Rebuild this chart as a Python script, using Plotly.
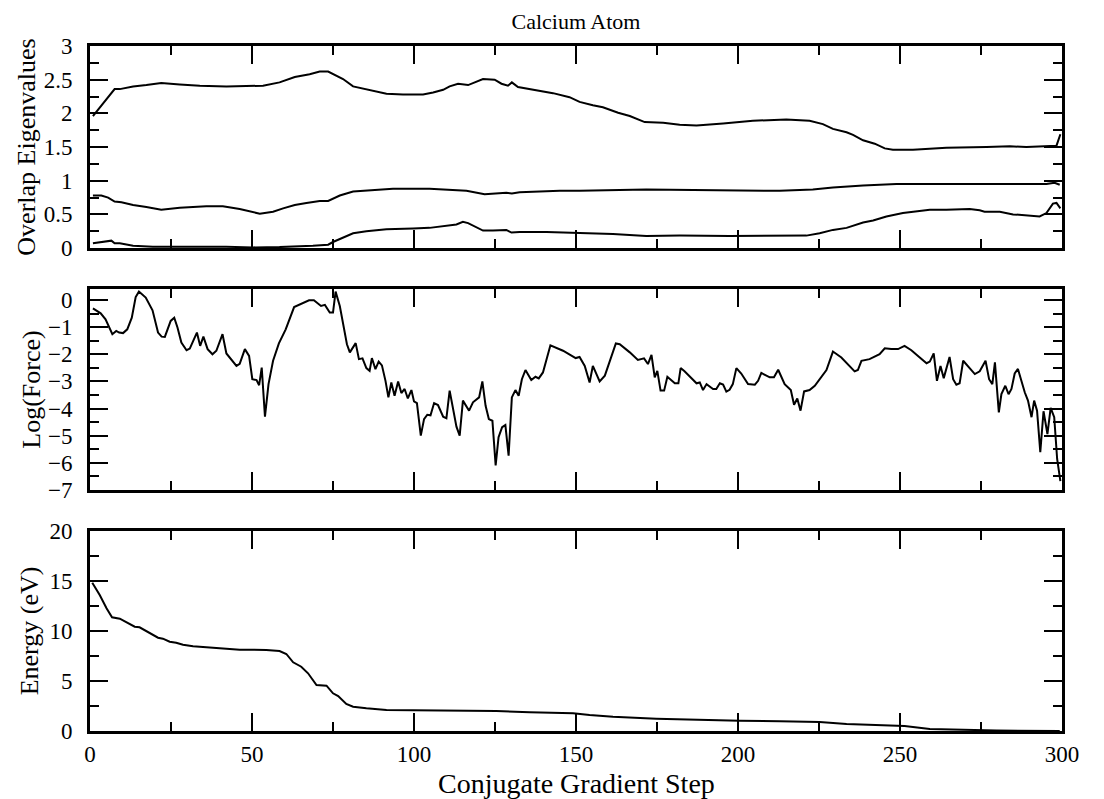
import plotly.graph_objects as go

# ---- Data ----
eig_hi_x = [0.9, 7.6, 9.2, 13.3, 17.4, 22, 27.7, 33.9, 42.1, 53.4, 58.5, 63.2, 67.8, 70.9, 73.5, 78.1, 81.2, 86.3,
            91.5, 96.6, 102.8, 105.9, 109, 111, 113.6, 116.7, 119.3, 121.3, 124.9, 127, 129, 130.2, 132.1, 136.7,
            142.9, 148, 151.1, 155.2, 158.3, 163, 166.6, 171.2, 176.9, 182, 187.2, 195.4, 204.6, 214.9, 222.1,
            226.2, 229.3, 233.5, 235.5, 238.6, 242.2, 245.3, 247.8, 254, 264.3, 276.7, 283.9, 289, 295.2, 298.3, 299.5]
eig_hi_y = [1.96, 2.36, 2.36, 2.40, 2.42, 2.45, 2.43, 2.41, 2.40, 2.41, 2.46, 2.54, 2.58, 2.62, 2.62, 2.51, 2.40, 2.35,
            2.29, 2.28, 2.28, 2.31, 2.35, 2.40, 2.44, 2.42, 2.47, 2.51, 2.50, 2.44, 2.41, 2.46, 2.39, 2.35,
            2.30, 2.24, 2.17, 2.12, 2.09, 2.01, 1.96, 1.87, 1.86, 1.83, 1.82, 1.85, 1.89, 1.91, 1.89,
            1.84, 1.77, 1.72, 1.68, 1.60, 1.55, 1.48, 1.46, 1.46, 1.49, 1.50, 1.51, 1.50, 1.51, 1.52, 1.69]

eig_mid_x = [0.9, 3.5, 5.6, 7.6, 9.7, 13.3, 17.4, 22, 27.7, 35.9, 41, 46.2, 52.4, 56.5, 59.6, 63.2, 66.8, 70.9, 73.5,
             77.1, 81.2, 86.3, 93.5, 104.8, 116.2, 121.8, 128.5, 130.2, 132.6, 145, 151.1, 171.7, 192.3, 212.9,
             223.1, 229.3, 238.6, 248.9, 264.3, 284.9, 295.2, 297.7, 299.3]
eig_mid_y = [0.78, 0.78, 0.75, 0.69, 0.68, 0.64, 0.61, 0.57, 0.60, 0.62, 0.62, 0.58, 0.51, 0.54, 0.59, 0.64, 0.67, 0.70, 0.70,
             0.78, 0.84, 0.86, 0.88, 0.88, 0.85, 0.80, 0.82, 0.81, 0.83, 0.85, 0.85, 0.87, 0.86, 0.85,
             0.87, 0.90, 0.93, 0.95, 0.95, 0.95, 0.95, 0.97, 0.94]

eig_lo_x = [0.9, 4, 6.6, 7.6, 9.2, 13.3, 19.4, 27.7, 35.9, 42, 50.3, 58.5, 68.8, 73.5, 75, 78.1, 81.2, 85.3, 91.5,
            99.7, 104.8, 113.1, 115.1, 116.7, 121.3, 124.4, 128.5, 130.1, 132.6, 140.9, 151.1, 161.4, 171.7, 182,
            197.4, 212.9, 221.1, 225.2, 229.3, 233.5, 238.6, 241.7, 245.8, 250.9, 259.2, 264.3, 271.5, 274.6,
            276.1, 280.8, 284.9, 293.1, 295.2, 297.2, 298.3, 299.5]
eig_lo_y = [0.07, 0.09, 0.11, 0.07, 0.07, 0.035, 0.02, 0.02, 0.025, 0.02, 0.01, 0.015, 0.035, 0.05, 0.09, 0.16, 0.22, 0.25, 0.28,
            0.29, 0.30, 0.35, 0.39, 0.37, 0.26, 0.26, 0.27, 0.23, 0.24, 0.24, 0.23, 0.21, 0.18, 0.185,
            0.18, 0.18, 0.185, 0.22, 0.27, 0.30, 0.38, 0.41, 0.47, 0.52, 0.57, 0.57, 0.58, 0.56,
            0.54, 0.54, 0.50, 0.47, 0.52, 0.66, 0.67, 0.59]

force_x = [0.9, 3.3, 4.8, 6.9, 8.1, 9, 10.2, 11.5, 12.9, 14.1, 15.1, 17.2, 19.3, 21, 22.1, 23.1, 24.9, 26, 27, 28.2,
           29.8, 30.8, 32.1, 33, 34, 35, 36.3, 37.8, 39, 40.9, 42.1, 43.4, 45.2, 46.2, 47.8, 49.1, 50.1, 51.4,
           52.2, 53, 54, 55.1, 56.5, 58.3, 60.4, 63, 64.5, 67.6, 69.1, 71.3, 72.5, 74, 75, 75.8, 77.1, 78.3,
           79.3, 80.2, 82, 83, 84.1, 85.3, 86.3, 87, 88.1, 89.1, 90.1, 91.2, 92.1, 93, 94, 95.1, 96.1, 97.1,
           98.1, 99.2, 100, 100.9, 102.1, 103.1, 104.1, 105.1, 106.2, 107.4, 109, 110, 111, 113.1, 114.1, 115.1,
           117, 118.2, 120.1, 121.1, 122.1, 123.1, 124.2, 125.2, 126.1, 127.2, 128.2, 129.2, 130.2, 131.3,
           132.3, 133.3, 134.4, 136.2, 137.5, 138.5, 139.8, 142.1, 146, 149.9, 151.1, 152.7, 154.2, 155.2,
           157.3, 158.9, 160.4, 162.3, 163.5, 166.6, 169.1, 171, 172.2, 173.3, 174.3, 175.1, 176.1, 177.2,
           178.2, 180.5, 181.6, 182.3, 183.5, 187.2, 188.2, 189.2, 190.3, 192.3, 193.3, 194.4, 195.4, 196.4,
           197.4, 198.4, 199.5, 201, 203.1, 205.2, 206.2, 207.2, 209.8, 211.1, 212.4, 214.4, 216.3, 217.3,
           218.3, 219.3, 220.4, 222.1, 223.7, 225.2, 227.3, 229.3, 231.9, 236, 237, 238.1, 240.6, 243.7,
           245.3, 247.3, 249.4, 251.4, 253.5, 256.1, 258.2, 259.2, 260.4, 261.4, 262.5, 263.5, 265.3, 266.4,
           267.4, 268.4, 269.5, 273.1, 274.6, 276.4, 277.5, 278.5, 279.3, 280.5, 281.3, 282.5, 283.5, 284.4,
           285.4, 286.4, 288.5, 289.5, 290.6, 291.4, 292.3, 293.3, 294.3, 295.5, 296.5, 297.6, 298.5, 299.5]
force_y = [-0.31, -0.49, -0.71, -1.26, -1.14, -1.2, -1.22, -1.08, -0.65, 0.11, 0.31, 0.09, -0.38, -1.2, -1.35, -1.36, -0.77, -0.65, -1.01, -1.57,
           -1.85, -1.79, -1.44, -1.2, -1.69, -1.35, -1.81, -2.0, -1.87, -1.26, -1.97, -2.15, -2.43, -2.35, -1.81, -2.06, -2.92, -2.95,
           -3.14, -2.49, -4.30, -3.10, -2.24, -1.60, -1.08, -0.26, -0.18, -0.01, -0.01, -0.22, -0.18, -0.46, -0.46, 0.31, -0.22, -1.01,
           -1.63, -1.93, -1.59, -2.18, -2.15, -2.51, -2.61, -2.14, -2.55, -2.27, -2.41, -2.98, -3.59, -3.04, -3.53, -3.0, -3.43, -3.28,
           -3.63, -3.32, -3.74, -3.80, -5.0, -4.39, -4.23, -4.25, -3.80, -3.87, -4.30, -4.36, -3.34, -4.67, -5.0, -3.71,
           -4.08, -3.77, -3.59, -3.0, -3.90, -4.39, -4.45, -6.10, -5.06, -4.69, -4.61, -5.74, -3.59, -3.32,
           -3.53, -2.92, -2.58, -2.95, -2.83, -2.89, -2.67, -1.67, -1.87, -2.14, -2.10, -2.43, -3.04, -2.43,
           -3.0, -2.79, -2.30, -1.60, -1.63, -1.93, -2.21, -2.15, -2.36, -2.02, -2.85, -2.61, -3.34, -3.34,
           -2.83, -3.07, -3.07, -2.51, -2.63, -3.07, -3.04, -3.32, -3.10, -3.28, -3.28, -3.07, -3.12, -3.38,
           -3.31, -3.10, -2.51, -2.71, -3.10, -3.12, -2.98, -2.69, -2.85, -2.85, -2.57, -3.10, -3.32, -3.86,
           -3.63, -4.08, -3.37, -3.32, -3.16, -2.93, -2.58, -1.90, -2.12, -2.63, -2.58, -2.24, -2.18, -2.0,
           -1.78, -1.81, -1.81, -1.69, -1.85, -2.12, -2.33, -2.27, -1.97, -2.98, -2.43, -2.88, -2.10, -2.92,
           -3.12, -3.07, -2.24, -2.73, -2.63, -2.24, -2.92, -3.10, -2.30, -4.14, -3.47, -3.16, -3.47, -3.28,
           -2.71, -2.54, -3.40, -3.71, -4.32, -3.71, -4.08, -5.61, -4.10, -4.94, -3.98, -4.32, -5.86, -6.68]

energy_x = [0.7, 3, 5.1, 6.8, 9.2, 11.2, 13.8, 15.3, 17.9, 21, 22.5, 24.6, 26.6, 28.7, 31.8, 35.9, 40, 46.2, 54.4,
            58.5, 60.6, 62.7, 65.2, 67.3, 69.9, 73, 75, 76.6, 79.1, 81.2, 85.3, 91.5, 99.7, 110, 125.4, 135.7,
            149.1, 154.2, 161.4, 174.8, 187.2, 200.5, 212.9, 225.2, 233.5, 243.7, 251.4, 259.2, 269.5, 279.8, 299.3]
energy_y = [14.83, 13.6, 12.27, 11.37, 11.23, 10.9, 10.43, 10.37, 9.9, 9.33, 9.23, 8.93, 8.83, 8.63, 8.47, 8.37, 8.23, 8.13, 8.1,
            8.0, 7.7, 6.87, 6.43, 5.77, 4.6, 4.53, 3.77, 3.5, 2.7, 2.43, 2.27, 2.1, 2.07, 2.03, 2.0, 1.87,
            1.77, 1.6, 1.43, 1.23, 1.1, 1.03, 0.97, 0.9, 0.7, 0.6, 0.5, 0.2, 0.1, 0.05, 0.0]

x_ticks = [0, 50, 100, 150, 200, 250, 300]
eig_ticks = [0, 0.5, 1, 1.5, 2, 2.5, 3]
force_ticks = [0, -1, -2, -3, -4, -5, -6, -7]
energy_ticks = [0, 5, 10, 15, 20]

FONT = "Liberation Serif"
TICK_SIZE = 23
YTITLE_SIZE = 26
XTITLE_SIZE = 28
line = dict(color="black", width=2)

fig = go.Figure()
for xs, ys in [(eig_hi_x, eig_hi_y), (eig_mid_x, eig_mid_y), (eig_lo_x, eig_lo_y)]:
    fig.add_trace(go.Scatter(x=xs, y=ys, mode="lines", line=line, xaxis="x", yaxis="y", showlegend=False))
fig.add_trace(go.Scatter(x=force_x, y=force_y, mode="lines", line=line, xaxis="x2", yaxis="y2", showlegend=False))
fig.add_trace(go.Scatter(x=energy_x, y=energy_y, mode="lines", line=line, xaxis="x3", yaxis="y3", showlegend=False))

common = dict(showline=True, linewidth=3, linecolor="black", mirror="allticks", ticks="inside",
              ticklen=18, tickwidth=2, tickcolor="black", showgrid=False, zeroline=False, automargin=False,
              tickfont=dict(family=FONT, size=TICK_SIZE, color="black"))

def minor(vals):
    return dict(tickvals=vals, ticks="inside", ticklen=9, tickwidth=2, tickcolor="black")

def xax(anchor, show_labels):
    return dict(common, range=[0, 300], tickvals=x_ticks, anchor=anchor, domain=[0, 1],
                showticklabels=show_labels, ticklabelstandoff=0,
                minor=minor([25, 75, 125, 175, 225, 275]))

def ytitle(text, standoff):
    return dict(text=text, standoff=standoff, font=dict(family=FONT, size=YTITLE_SIZE, color="black"))

top_dom = [0.705, 1.0]
mid_dom = [0.352, 0.645]
bot_dom = [0.0, 0.292]

# The page body has an 8px margin, so the figure is sized and offset to compensate.
fig.update_layout(
    width=1096, height=791,
    paper_bgcolor="white", plot_bgcolor="white",
    margin=dict(l=82, r=42, t=38, b=68),
    font=dict(family=FONT, size=TICK_SIZE, color="black"),
    title=dict(text="Calcium Atom", x=0.5, xref="paper", y=0.9836, yanchor="middle",
               font=dict(family=FONT, size=22, color="black")),
    xaxis=xax("y", False),
    xaxis2=xax("y2", False),
    xaxis3=xax("y3", True),
    yaxis=dict(common, range=[0, 3], tickvals=eig_ticks, ticktext=["0", "0.5", "1", "1.5", "2", "2.5", "3"],
               domain=top_dom, anchor="x", ticklabelstandoff=10,
               minor=minor([0.25, 0.75, 1.25, 1.75, 2.25, 2.75]),
               title=ytitle("Overlap Eigenvalues", 1)),
    yaxis2=dict(common, range=[-7, 0.4], tickvals=force_ticks, domain=mid_dom, anchor="x2", ticklabelstandoff=10,
                minor=minor([-0.5, -1.5, -2.5, -3.5, -4.5, -5.5, -6.5]),
                title=ytitle("Log(Force)", 0)),
    yaxis3=dict(common, range=[0, 20], tickvals=energy_ticks, domain=bot_dom, anchor="x3", ticklabelstandoff=10,
                minor=minor([2.5, 7.5, 12.5, 17.5]),
                title=ytitle("Energy (eV)", 4)),
    annotations=[dict(text="Conjugate Gradient Step", xref="paper", yref="paper", x=0.5, y=-0.077,
                      xanchor="center", yanchor="middle", showarrow=False,
                      font=dict(family=FONT, size=XTITLE_SIZE, color="black"))],
)

fig.write_html("out.html")
